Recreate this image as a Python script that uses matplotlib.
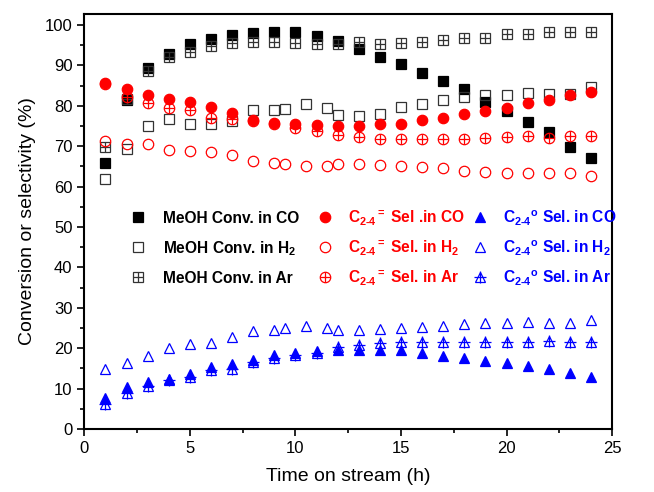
import matplotlib
matplotlib.use('Agg')
import matplotlib.pyplot as plt

plt.rcParams['font.family'] = ['Liberation Sans', 'DejaVu Sans']
plt.rcParams['mathtext.fontset'] = 'custom'
plt.rcParams['mathtext.rm'] = 'Liberation Sans:bold'
plt.rcParams['mathtext.it'] = 'Liberation Sans:bold'
plt.rcParams['mathtext.bf'] = 'Liberation Sans:bold'
plt.rcParams['mathtext.default'] = 'bf'

# time on stream (h)
t = list(range(1, 25))
t_h2 = [1, 2, 3, 4, 5, 6, 7, 8, 9, 9.5, 10.5, 11.5, 12, 13, 14, 15, 16, 17, 18, 19, 20, 21, 22, 23, 24]

# MeOH conversion
conv_co = [65.9, 81.4, 89.3, 92.8, 95.2, 96.5, 97.5, 98.0, 98.3, 98.2, 97.3, 96.0,
           94.2, 92.1, 90.3, 88.2, 86.2, 84.2, 80.9, 78.8, 75.9, 73.6, 69.7, 67.2]
conv_h2 = [61.8, 69.2, 75.0, 76.7, 75.6, 75.4, 76.2, 78.9, 79.1, 79.3, 80.5, 79.4, 77.7,
           77.5, 78.1, 79.7, 80.5, 81.4, 82.1, 82.7, 82.7, 83.3, 82.9, 83.0, 84.6]
conv_ar = [69.9, 81.6, 88.6, 92.2, 93.3, 94.8, 95.6, 95.9, 95.7, 95.6, 95.4, 95.2,
           95.9, 95.4, 95.5, 95.9, 96.2, 96.9, 96.9, 97.7, 97.9, 98.2, 98.3, 98.3]

# C2-4 olefin selectivity
ole_co = [85.7, 84.1, 82.7, 81.8, 80.9, 79.7, 78.3, 76.5, 75.8, 75.5, 75.2, 75.1,
          75.1, 75.4, 75.5, 76.6, 77.1, 77.9, 78.8, 79.5, 80.6, 81.4, 82.7, 83.4]
ole_h2 = [71.4, 70.5, 70.5, 69.1, 68.9, 68.6, 67.8, 66.3, 65.9, 65.5, 65.1, 65.2, 65.7,
          65.5, 65.3, 65.1, 64.9, 64.5, 63.9, 63.7, 63.4, 63.4, 63.4, 63.4, 62.7]
ole_ar = [85.3, 82.3, 80.6, 79.4, 79.0, 77.1, 76.8, 76.2, 75.4, 74.6, 73.9, 72.9,
          72.4, 71.9, 71.7, 71.7, 71.8, 71.8, 72.1, 72.3, 72.5, 72.1, 72.6, 72.6]

# C2-4 paraffin selectivity
par_co = [7.7, 10.3, 11.6, 12.5, 13.6, 15.3, 16.2, 17.2, 18.4, 18.7, 19.2, 19.6,
          19.5, 19.5, 19.5, 18.8, 18.2, 17.6, 16.9, 16.3, 15.6, 14.8, 13.8, 13.0]
par_h2 = [14.9, 16.3, 18.0, 20.0, 21.1, 21.3, 22.7, 24.2, 24.6, 25.0, 25.5, 25.0, 24.4,
          24.6, 24.8, 25.0, 25.3, 25.6, 25.9, 26.2, 26.3, 26.5, 26.2, 26.3, 26.9]
par_ar = [6.3, 9.0, 10.7, 12.2, 13.0, 14.6, 14.8, 16.5, 17.5, 18.4, 18.9, 20.4,
          20.8, 21.4, 21.6, 21.6, 21.6, 21.6, 21.6, 21.6, 21.6, 21.9, 21.6, 21.6]

labels = [['MeOH Conv. in CO', r'MeOH Conv. in H$_2$', 'MeOH Conv. in Ar'],
          [r'$C_{\text{2-4}}{}^{=}$ Sel .in CO', r'$C_{\text{2-4}}{}^{=}$ Sel. in H$_2$', r'$C_{\text{2-4}}{}^{=}$ Sel. in Ar'],
          [r'$C_{\text{2-4}}{}^{\mathrm{o}}$ Sel. in CO', r'$C_{\text{2-4}}{}^{\mathrm{o}}$ Sel. in H$_2$', r'$C_{\text{2-4}}{}^{\mathrm{o}}$ Sel. in Ar']]

fig = plt.figure(figsize=(6.54, 4.92), dpi=100)
ax = fig.add_axes([0.129, 0.128, 0.807, 0.844])

ms = {'s': 6.5, 'o': 7.5, '^': 7.5}
lw = 0.9
colors = ['black', 'red', 'blue']
edge = ['#333333', 'red', 'blue']
mk = ['s', 'o', '^']


def draw(ax, x, y, i, kind, **kw):
    # kind: 0 filled, 1 open, 2 open with cross
    m = mk[i]
    if kind == 0:
        ax.plot(x, y, m, color=colors[i], ms=ms[m], mew=lw, **kw)
    else:
        ax.plot(x, y, m, mfc='none', mec=edge[i], ms=ms[m], mew=lw, **kw)
    if kind == 2:
        ax.plot(x, y, '+', color=edge[i], ms=ms[m] + (1 if m == '^' else 0), mew=lw, **kw)


series = [[(t, conv_co), (t_h2, conv_h2), (t, conv_ar)],
          [(t, ole_co), (t_h2, ole_h2), (t, ole_ar)],
          [(t, par_co), (t_h2, par_h2), (t, par_ar)]]
for i in range(3):
    for k in range(3):
        x, y = series[i][k]
        draw(ax, x, y, i, k)

# legend, drawn by hand so rows line up across columns
mark_x = [0.102, 0.455, 0.749]
text_x = [0.149, 0.500, 0.793]
row_y = [0.511, 0.439, 0.367]
for i in range(3):
    for k in range(3):
        draw(ax, [mark_x[i]], [row_y[k]], i, k, transform=ax.transAxes, clip_on=False)
        ax.text(text_x[i], row_y[k] - 0.015, labels[i][k], transform=ax.transAxes,
                color=colors[i], fontsize=11.2, fontweight='bold', va='baseline', ha='left')

ax.set_xlim(0, 25)
ax.set_ylim(0, 102.8)
ax.set_xticks(range(0, 26, 5))
ax.set_xticks([x + 2.5 for x in range(0, 25, 5)], minor=True)
ax.set_yticks(range(0, 101, 10))
ax.set_yticks(range(5, 100, 10), minor=True)
ax.tick_params(which='both', direction='out', width=1.2, labelsize=12)
ax.tick_params(which='major', length=5)
ax.tick_params(which='minor', length=3)
for s in ax.spines.values():
    s.set_linewidth(1.5)
ax.set_xlabel('Time on stream (h)', fontsize=14, labelpad=9)
ax.set_ylabel('Conversion or selectivity (%)', fontsize=14, labelpad=6)

fig.savefig('out.png', dpi=100)
